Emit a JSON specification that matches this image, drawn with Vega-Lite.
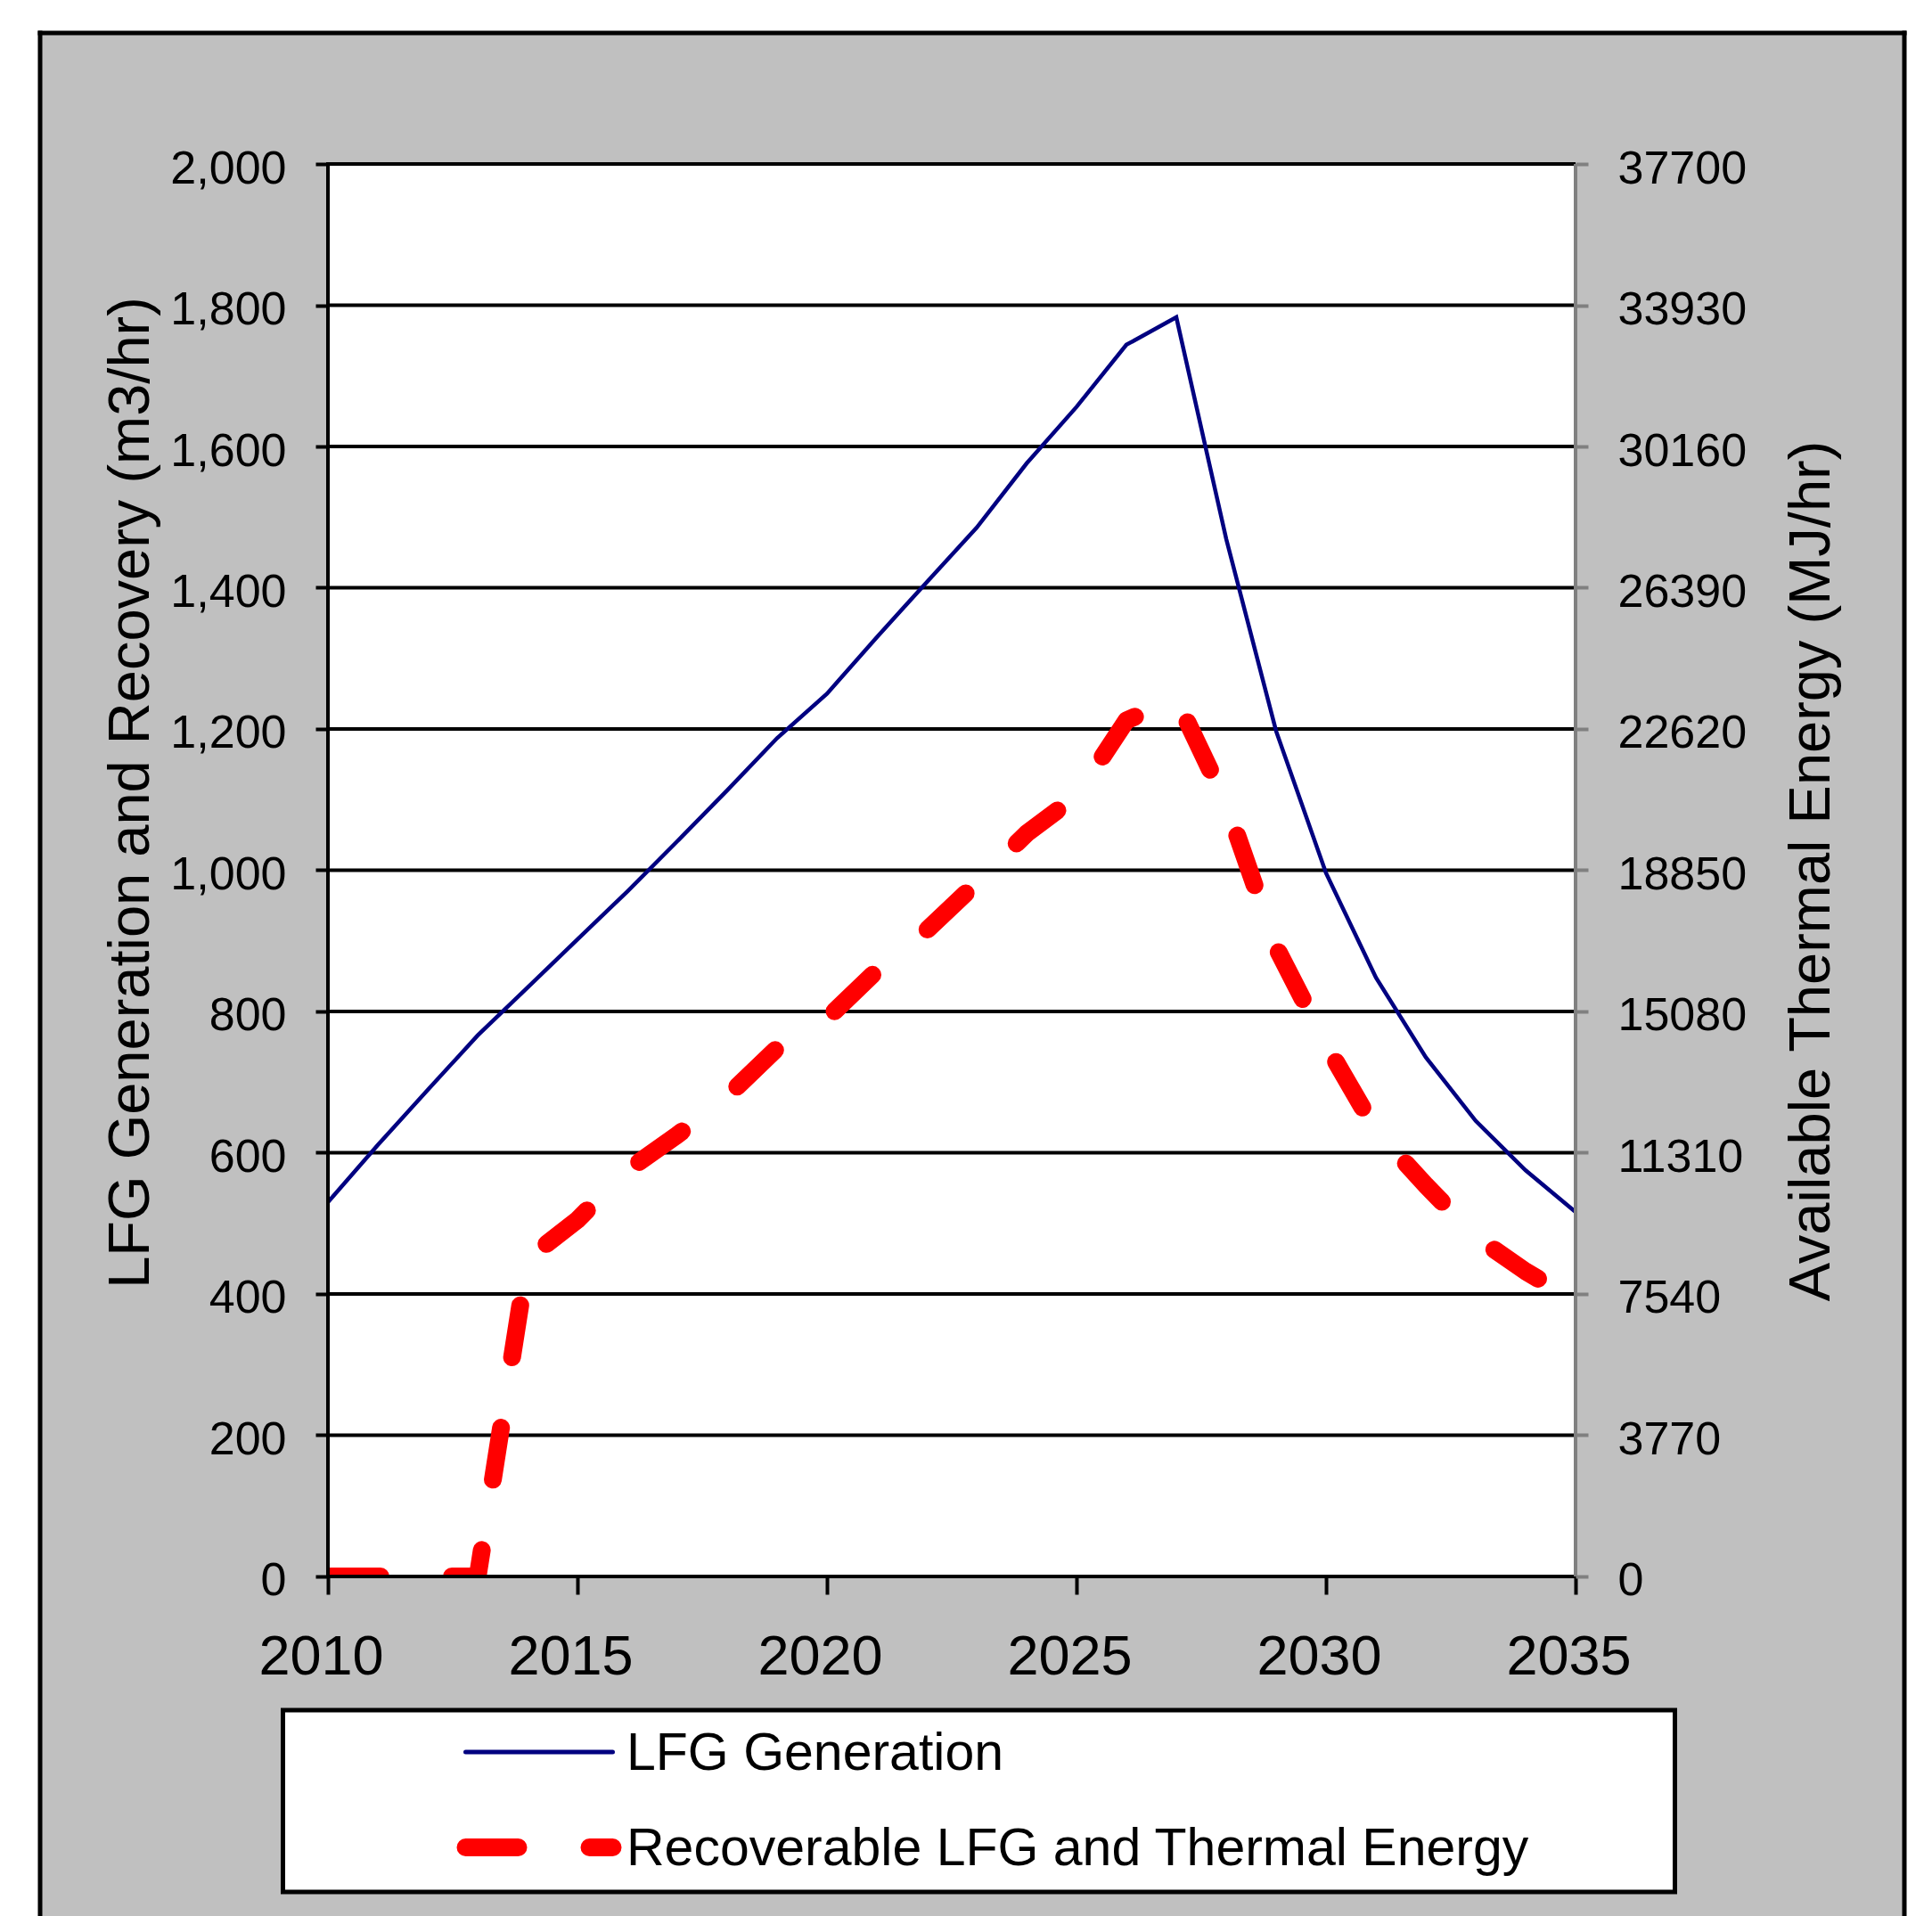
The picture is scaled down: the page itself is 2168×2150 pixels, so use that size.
{
  "$schema": "https://vega.github.io/schema/vega-lite/v6.json",
  "width": 2092,
  "height": 2113,
  "autosize": {"type": "none"},
  "padding": {"left": 45, "top": 37, "right": 31, "bottom": 0},
  "background": "#FFFFFF",
  "config": {
    "view": {"fill": "#C0C0C0", "stroke": null},
    "font": "Liberation Sans",
    "axis": {"labelFont": "Liberation Sans", "titleFont": "Liberation Sans", "labelColor": "#000000", "titleColor": "#000000", "titleFontWeight": "normal", "zindex": 1}
  },
  "title": {"text": "6%", "anchor": "start", "frame": "group", "dx": 1380, "offset": 22, "fontSize": 50, "fontWeight": "normal", "font": "Liberation Sans", "color": "#000000", "baseline": "alphabetic"},
  "data": {"values": [
    {"year": 2010, "series": "LFG Generation", "value": 530},
    {"year": 2011, "series": "LFG Generation", "value": 611},
    {"year": 2012, "series": "LFG Generation", "value": 689},
    {"year": 2013, "series": "LFG Generation", "value": 766},
    {"year": 2014, "series": "LFG Generation", "value": 834},
    {"year": 2015, "series": "LFG Generation", "value": 902},
    {"year": 2016, "series": "LFG Generation", "value": 970},
    {"year": 2017, "series": "LFG Generation", "value": 1041},
    {"year": 2018, "series": "LFG Generation", "value": 1113},
    {"year": 2019, "series": "LFG Generation", "value": 1187},
    {"year": 2020, "series": "LFG Generation", "value": 1250},
    {"year": 2021, "series": "LFG Generation", "value": 1330},
    {"year": 2022, "series": "LFG Generation", "value": 1408},
    {"year": 2023, "series": "LFG Generation", "value": 1485},
    {"year": 2024, "series": "LFG Generation", "value": 1576},
    {"year": 2025, "series": "LFG Generation", "value": 1656},
    {"year": 2026, "series": "LFG Generation", "value": 1744},
    {"year": 2027, "series": "LFG Generation", "value": 1783},
    {"year": 2028, "series": "LFG Generation", "value": 1469},
    {"year": 2029, "series": "LFG Generation", "value": 1197},
    {"year": 2030, "series": "LFG Generation", "value": 996},
    {"year": 2031, "series": "LFG Generation", "value": 848},
    {"year": 2032, "series": "LFG Generation", "value": 735},
    {"year": 2033, "series": "LFG Generation", "value": 645},
    {"year": 2034, "series": "LFG Generation", "value": 575},
    {"year": 2035, "series": "LFG Generation", "value": 516},
    {"year": 2010, "series": "Recoverable LFG and Thermal Energy", "value": 0},
    {"year": 2011, "series": "Recoverable LFG and Thermal Energy", "value": 0},
    {"year": 2012, "series": "Recoverable LFG and Thermal Energy", "value": 0},
    {"year": 2013, "series": "Recoverable LFG and Thermal Energy", "value": 0},
    {"year": 2014, "series": "Recoverable LFG and Thermal Energy", "value": 450},
    {"year": 2015, "series": "Recoverable LFG and Thermal Energy", "value": 505},
    {"year": 2016, "series": "Recoverable LFG and Thermal Energy", "value": 575},
    {"year": 2017, "series": "Recoverable LFG and Thermal Energy", "value": 625},
    {"year": 2018, "series": "Recoverable LFG and Thermal Energy", "value": 680},
    {"year": 2019, "series": "Recoverable LFG and Thermal Energy", "value": 748},
    {"year": 2020, "series": "Recoverable LFG and Thermal Energy", "value": 790},
    {"year": 2021, "series": "Recoverable LFG and Thermal Energy", "value": 858},
    {"year": 2022, "series": "Recoverable LFG and Thermal Energy", "value": 915},
    {"year": 2023, "series": "Recoverable LFG and Thermal Energy", "value": 982},
    {"year": 2024, "series": "Recoverable LFG and Thermal Energy", "value": 1052},
    {"year": 2025, "series": "Recoverable LFG and Thermal Energy", "value": 1105},
    {"year": 2026, "series": "Recoverable LFG and Thermal Energy", "value": 1212},
    {"year": 2027, "series": "Recoverable LFG and Thermal Energy", "value": 1243},
    {"year": 2028, "series": "Recoverable LFG and Thermal Energy", "value": 1094},
    {"year": 2029, "series": "Recoverable LFG and Thermal Energy", "value": 891},
    {"year": 2030, "series": "Recoverable LFG and Thermal Energy", "value": 753},
    {"year": 2031, "series": "Recoverable LFG and Thermal Energy", "value": 631},
    {"year": 2032, "series": "Recoverable LFG and Thermal Energy", "value": 554},
    {"year": 2033, "series": "Recoverable LFG and Thermal Energy", "value": 481},
    {"year": 2034, "series": "Recoverable LFG and Thermal Energy", "value": 432},
    {"year": 2035, "series": "Recoverable LFG and Thermal Energy", "value": 390}
  ]},
  "datasets": {"grid": [{"v": 200}, {"v": 400}, {"v": 600}, {"v": 800}, {"v": 1000}, {"v": 1200}, {"v": 1400}, {"v": 1600}, {"v": 1800}, {"v": 2000}]},
  "layer": [
    {
      "layer": [
        {
          "data": {"values": [{}]},
          "mark": {"type": "rect", "fill": "#FFFFFF"},
          "encoding": {
            "x": {"datum": 2010, "type": "quantitative", "scale": {"domain": [2004.2321, 2041.5893], "nice": false, "zero": false},
              "axis": {"orient": "bottom", "offset": -381, "values": [2010, 2015, 2020, 2025, 2030, 2035], "format": "d", "domain": false, "grid": false, "tickColor": "#000000", "tickWidth": 4, "tickSize": 20, "labelFontSize": 63, "labelPadding": 39, "labelOffset": -8, "labelFlush": false, "labelOverlap": false, "title": null, "zindex": 1}},
            "x2": {"datum": 2035},
            "y": {"datum": 0, "type": "quantitative", "scale": {"domain": [-480.76, 2185.49], "nice": false, "zero": false},
              "axis": {"orient": "left", "offset": -323, "values": [0, 200, 400, 600, 800, 1000, 1200, 1400, 1600, 1800, 2000], "format": ",d", "domain": false, "grid": false, "tickColor": "#000000", "tickWidth": 4, "tickSize": 14, "labelFontSize": 52, "labelPadding": 33, "labelOffset": 5, "labelOverlap": false, "labelFlush": false, "title": "LFG Generation and Recovery (m3/hr)", "titleFontSize": 65, "titleAngle": -90, "titleAlign": "center", "titleBaseline": "alphabetic", "titleX": -202, "titleY": 852, "zindex": 1}},
            "y2": {"datum": 2000}
          }
        },
        {
          "data": {"name": "grid"},
          "mark": {"type": "rule", "color": "#000000", "strokeWidth": 4},
          "encoding": {
            "y": {"field": "v", "type": "quantitative", "scale": {"domain": [-480.76, 2185.49], "nice": false, "zero": false}},
            "x": {"datum": 2010, "type": "quantitative", "scale": {"domain": [2004.2321, 2041.5893], "nice": false, "zero": false}},
            "x2": {"datum": 2035}
          }
        },
        {
          "transform": [{"filter": "datum.series === 'LFG Generation'"}],
          "mark": {"type": "line", "strokeWidth": 4.5, "strokeJoin": "miter"},
          "encoding": {
            "x": {"field": "year", "type": "quantitative", "scale": {"domain": [2004.2321, 2041.5893], "nice": false, "zero": false}},
            "y": {"field": "value", "type": "quantitative", "scale": {"domain": [-480.76, 2185.49], "nice": false, "zero": false}},
            "color": {"field": "series", "type": "nominal",
              "scale": {"domain": ["LFG Generation", "Recoverable LFG and Thermal Energy"], "range": ["#000080", "#FF0000"]},
              "legend": {"orient": "none", "legendX": 272.5, "legendY": 1882, "title": " ", "titleOrient": "right", "titlePadding": 145, "titleFontSize": 1, "padding": 18, "fillColor": "#FFFFFF", "strokeColor": "#000000", "symbolType": "stroke", "symbolSize": 27225, "symbolOffset": 240, "labelOffset": 68.5, "labelFont": "Liberation Sans", "labelFontSize": 59, "labelColor": "#000000", "labelLimit": 3000, "rowPadding": 46, "clipHeight": 58,
                "encode": {"legend": {"update": {"strokeWidth": {"value": 5}}}, "labels": {"update": {"dy": {"value": 2}}}, "symbols": {"update": {"strokeWidth": {"signal": "datum.value === 'LFG Generation' ? 5 : 20"}, "strokeDash": {"signal": "datum.value === 'LFG Generation' ? [1, 0] : [59, 80]"}, "strokeCap": {"value": "round"}}}}}}
          }
        },
        {
          "transform": [{"filter": "datum.series === 'Recoverable LFG and Thermal Energy'"}],
          "mark": {"type": "line", "strokeWidth": 20, "strokeDash": [59, 80], "strokeCap": "round", "strokeJoin": "round"},
          "encoding": {
            "x": {"field": "year", "type": "quantitative", "scale": {"domain": [2004.2321, 2041.5893], "nice": false, "zero": false}},
            "y": {"field": "value", "type": "quantitative", "scale": {"domain": [-480.76, 2185.49], "nice": false, "zero": false}},
            "color": {"field": "series", "type": "nominal",
              "scale": {"domain": ["LFG Generation", "Recoverable LFG and Thermal Energy"], "range": ["#000080", "#FF0000"]},
              "legend": {"orient": "none", "legendX": 272.5, "legendY": 1882, "title": " ", "titleOrient": "right", "titlePadding": 145, "titleFontSize": 1, "padding": 18, "fillColor": "#FFFFFF", "strokeColor": "#000000", "symbolType": "stroke", "symbolSize": 27225, "symbolOffset": 240, "labelOffset": 68.5, "labelFont": "Liberation Sans", "labelFontSize": 59, "labelColor": "#000000", "labelLimit": 3000, "rowPadding": 46, "clipHeight": 58,
                "encode": {"legend": {"update": {"strokeWidth": {"value": 5}}}, "labels": {"update": {"dy": {"value": 2}}}, "symbols": {"update": {"strokeWidth": {"signal": "datum.value === 'LFG Generation' ? 5 : 20"}, "strokeDash": {"signal": "datum.value === 'LFG Generation' ? [1, 0] : [59, 80]"}, "strokeCap": {"value": "round"}}}}}}
          }
        },
        {
          "data": {"values": [{}]},
          "mark": {"type": "rect", "fill": "#C0C0C0"},
          "encoding": {
            "x": {"datum": 2009.4, "type": "quantitative", "scale": {"domain": [2004.2321, 2041.5893], "nice": false, "zero": false}},
            "x2": {"datum": 2014},
            "y": {"datum": -25, "type": "quantitative", "scale": {"domain": [-480.76, 2185.49], "nice": false, "zero": false}},
            "y2": {"datum": 0}
          }
        },
        {
          "data": {"values": [{}]},
          "mark": {"type": "rect", "fill": "#C0C0C0"},
          "encoding": {
            "x": {"datum": 2009.4, "type": "quantitative", "scale": {"domain": [2004.2321, 2041.5893], "nice": false, "zero": false}},
            "x2": {"datum": 2010},
            "y": {"datum": -25, "type": "quantitative", "scale": {"domain": [-480.76, 2185.49], "nice": false, "zero": false}},
            "y2": {"datum": 20}
          }
        },
        {
          "data": {"values": [{}]},
          "mark": {"type": "rule", "color": "#000000", "strokeWidth": 4, "strokeCap": "square"},
          "encoding": {
            "x": {"datum": 2010, "type": "quantitative", "scale": {"domain": [2004.2321, 2041.5893], "nice": false, "zero": false}},
            "x2": {"datum": 2035},
            "y": {"datum": 0, "type": "quantitative", "scale": {"domain": [-480.76, 2185.49], "nice": false, "zero": false}}
          }
        },
        {
          "data": {"values": [{}]},
          "mark": {"type": "rule", "color": "#000000", "strokeWidth": 4, "strokeCap": "square"},
          "encoding": {
            "x": {"datum": 2010, "type": "quantitative", "scale": {"domain": [2004.2321, 2041.5893], "nice": false, "zero": false}},
            "y": {"datum": 0, "type": "quantitative", "scale": {"domain": [-480.76, 2185.49], "nice": false, "zero": false}},
            "y2": {"datum": 2000}
          }
        },
        {
          "data": {"values": [{}]},
          "mark": {"type": "rule", "color": "#808080", "strokeWidth": 4},
          "encoding": {
            "x": {"datum": 2035, "type": "quantitative", "scale": {"domain": [2004.2321, 2041.5893], "nice": false, "zero": false}},
            "y": {"datum": 0, "type": "quantitative", "scale": {"domain": [-480.76, 2185.49], "nice": false, "zero": false}},
            "y2": {"datum": 2000}
          }
        },
        {
          "data": {"values": [{}]},
          "mark": {"type": "rule", "color": "#000000", "strokeWidth": 5, "strokeCap": "square"},
          "encoding": {
            "x": {"datum": 2004.2321, "type": "quantitative", "scale": {"domain": [2004.2321, 2041.5893], "nice": false, "zero": false}},
            "y": {"datum": -480.76, "type": "quantitative", "scale": {"domain": [-480.76, 2185.49], "nice": false, "zero": false}},
            "y2": {"datum": 2185.49}
          }
        },
        {
          "data": {"values": [{}]},
          "mark": {"type": "rule", "color": "#000000", "strokeWidth": 5, "strokeCap": "square"},
          "encoding": {
            "x": {"datum": 2041.5893, "type": "quantitative", "scale": {"domain": [2004.2321, 2041.5893], "nice": false, "zero": false}},
            "y": {"datum": -480.76, "type": "quantitative", "scale": {"domain": [-480.76, 2185.49], "nice": false, "zero": false}},
            "y2": {"datum": 2185.49}
          }
        },
        {
          "data": {"values": [{}]},
          "mark": {"type": "rule", "color": "#000000", "strokeWidth": 5, "strokeCap": "square"},
          "encoding": {
            "x": {"datum": 2004.2321, "type": "quantitative", "scale": {"domain": [2004.2321, 2041.5893], "nice": false, "zero": false}},
            "x2": {"datum": 2041.5893},
            "y": {"datum": 2185.49, "type": "quantitative", "scale": {"domain": [-480.76, 2185.49], "nice": false, "zero": false}}
          }
        }
      ]
    },
    {
      "data": {"values": [{}]},
      "mark": {"type": "point", "opacity": 0},
      "encoding": {
        "x": {"datum": 2010, "type": "quantitative", "scale": {"domain": [2004.2321, 2041.5893], "nice": false, "zero": false}},
        "y": {"datum": 0, "type": "quantitative", "scale": {"domain": [-9062.33, 41196.49], "nice": false, "zero": false},
          "axis": {"orient": "right", "offset": -369, "values": [0, 3770, 7540, 11310, 15080, 18850, 22620, 26390, 30160, 33930, 37700], "format": "d", "domain": false, "grid": false, "tickColor": "#808080", "tickWidth": 4, "tickSize": 14, "labelFontSize": 52, "labelPadding": 33, "labelOffset": 5, "labelOverlap": false, "labelFlush": false, "title": "Available Thermal Energy (MJ/hr)", "titleFontSize": 65, "titleAngle": -90, "titleAlign": "center", "titleBaseline": "alphabetic", "titleX": 284, "titleY": 940, "zindex": 1}}
      }
    }
  ],
  "resolve": {"scale": {"y": "independent"}}
}
